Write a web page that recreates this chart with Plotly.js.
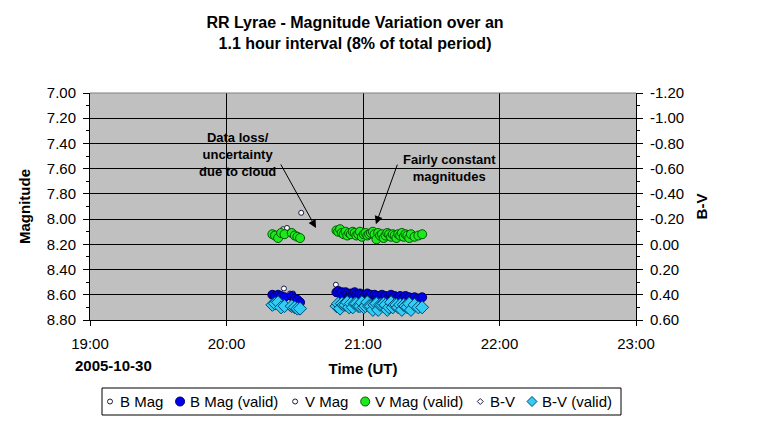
<!DOCTYPE html>
<html>
<head>
<meta charset="utf-8">
<script src="https://cdn.plot.ly/plotly-3.0.1.min.js"></script>
<style>
html,body{margin:0;padding:0;background:#fff;}
#chart{width:757px;height:421px;}
</style>
</head>
<body>
<div id="chart"></div>
<script>
var obsDate = "2005-10-30";

// Group 1 (before cloud) valid observation times (UT)
var times1 = ["20:20:10","20:21:20","20:22:40","20:24:00","20:25:30","20:28:40","20:30:00","20:31:10","20:32:20"];
var vMag1  = [8.12, 8.13, 8.15, 8.11, 8.12, 8.11, 8.13, 8.14, 8.15];
var bMag1  = [8.60, 8.61, 8.60, 8.61, 8.62, 8.61, 8.63, 8.64, 8.66];
var bv1    = [0.48, 0.47, 0.46, 0.50, 0.49, 0.49, 0.50, 0.51, 0.51];

// Group 2 (after cloud) valid observation times (UT)
var times2 = ["20:48:20","20:49:05","20:49:55","20:50:40","20:51:30","20:52:20","20:53:05","20:53:55","20:54:40","20:55:30",
              "20:56:20","20:57:05","20:57:55","20:58:40","20:59:30","21:00:20","21:01:05","21:01:55","21:02:40","21:03:30",
              "21:04:20","21:05:05","21:05:55","21:06:40","21:07:30","21:08:20","21:09:05","21:09:55","21:10:40","21:11:30",
              "21:12:20","21:13:05","21:13:55","21:14:40","21:15:30","21:16:20","21:17:05","21:17:55","21:18:40","21:19:30",
              "21:20:20","21:21:05","21:22:40","21:24:20","21:26:00"];
var vMag2 = [8.09,8.10,8.08,8.11,8.12,8.10,8.13,8.11,8.12,8.10,
             8.11,8.13,8.12,8.10,8.14,8.12,8.11,8.13,8.12,8.11,
             8.10,8.12,8.16,8.11,8.13,8.12,8.15,8.13,8.11,8.12,
             8.14,8.12,8.13,8.15,8.12,8.13,8.11,8.14,8.12,8.13,
             8.15,8.12,8.14,8.13,8.12];
var bMag2 = [8.58,8.57,8.59,8.58,8.60,8.58,8.59,8.61,8.59,8.60,
             8.58,8.60,8.61,8.59,8.60,8.62,8.60,8.59,8.61,8.60,
             8.62,8.60,8.61,8.63,8.61,8.60,8.62,8.61,8.63,8.62,
             8.60,8.62,8.61,8.63,8.62,8.61,8.63,8.62,8.61,8.63,
             8.62,8.64,8.62,8.63,8.62];
var bv2   = [0.49,0.47,0.51,0.47,0.48,0.48,0.46,0.50,0.47,0.50,
             0.47,0.47,0.49,0.49,0.46,0.50,0.49,0.46,0.49,0.49,
             0.52,0.48,0.47,0.52,0.48,0.48,0.47,0.48,0.52,0.50,
             0.46,0.50,0.48,0.48,0.50,0.48,0.52,0.48,0.49,0.50,
             0.47,0.52,0.48,0.50,0.50];

// Invalid (flagged) observations
var bInvTimes  = ["20:25:15","20:27:55","20:29:15","20:48:05"];
var bInvMag    = [8.55, 8.59, 8.59, 8.52];
var vInvTimes  = ["20:24:50","20:26:35","20:32:50"];
var vInvMag    = [8.08, 8.07, 7.95];
var bvInvTimes = ["20:25:15","20:27:55"];
var bvInv      = [0.47, 0.50];

var seriesNames = ["B Mag","B Mag (valid)","V Mag","V Mag (valid)","B-V","B-V (valid)"];
var xTickVals = ["19:00","20:00","21:00","22:00","23:00"];
var xTickText = ["19:00","20:00","21:00","22:00","23:00"];
var yTickVals = [7.0,7.2,7.4,7.6,7.8,8.0,8.2,8.4,8.6,8.8];
var yTickText = ["7.00","7.20","7.40","7.60","7.80","8.00","8.20","8.40","8.60","8.80"];
var y2TickVals = [-1.2,-1.0,-0.8,-0.6,-0.4,-0.2,0.0,0.2,0.4,0.6];
var y2TickText = ["-1.20","-1.00","-0.80","-0.60","-0.40","-0.20","0.00","0.20","0.40","0.60"];

function stamp(arr){ return arr.map(function(t){ return obsDate + " " + t; }); }

var allTimes = stamp(times1.concat(times2));
var FONT = "Liberation Sans, Arial, sans-serif";

// ---- styles ----
var DARK = "#1a1a40";
var styles = [
  {sym:"circle",  size:5,  fill:"#ffffff", line:DARK},
  {sym:"circle",  size:9,  fill:"#0000f0", line:"#000060"},
  {sym:"circle",  size:5,  fill:"#ffffff", line:DARK},
  {sym:"circle",  size:9,  fill:"#1ee81e", line:"#005a00"},
  {sym:"diamond", size:6,  fill:"#ffffff", line:DARK},
  {sym:"diamond", size:10, fill:"#33ccf5", line:"#004a70"}
];

function mk(i){ var s = styles[i]; return {symbol:s.sym, size:s.size, color:s.fill, line:{color:s.line, width:1}}; }

var traces = [
  {name:seriesNames[0], x: stamp(bInvTimes).concat(allTimes), y: bInvMag.concat(bMag1, bMag2), mode:"markers", type:"scatter", marker: mk(0)},
  {name:seriesNames[1], x: allTimes, y: bMag1.concat(bMag2), mode:"markers", type:"scatter", marker: mk(1)},
  {name:seriesNames[2], x: stamp(vInvTimes).concat(allTimes), y: vInvMag.concat(vMag1, vMag2), mode:"markers", type:"scatter", marker: mk(2)},
  {name:seriesNames[3], x: allTimes, y: vMag1.concat(vMag2), mode:"markers", type:"scatter", marker: mk(3)},
  {name:seriesNames[4], x: stamp(bvInvTimes).concat(allTimes), y: bvInv.concat(bv1, bv2), yaxis:"y2", mode:"markers", type:"scatter", marker: mk(4)},
  {name:seriesNames[5], x: allTimes, y: bv1.concat(bv2), yaxis:"y2", mode:"markers", type:"scatter", marker: mk(5)}
];

// ---- plot-area geometry (pixels) used to place the legend box below the plot ----
var M = {l:90, r:121, t:93, b:101};
var PW = 757 - M.l - M.r, PH = 421 - M.t - M.b;
function px(x){ return (x - M.l) / PW; }
function py(y){ return (421 - M.b - y) / PH; }

var LEG_SIZE = 15;
var cv = document.createElement("canvas").getContext("2d");
cv.font = LEG_SIZE + "px 'Liberation Sans', Arial, sans-serif";
var tw = seriesNames.map(function(s){ return cv.measureText(s).width; });
var sumTw = tw.reduce(function(a,b){return a+b;},0);

var boxL = 102, boxR = 621, boxT = 388, boxB = 415, legY = 401.5;
var firstSym = 110, lastEnd = 611, symGap = 9;
var textGap = (lastEnd - firstSym - sumTw - 6*symGap) / 5;

var legShapes = [{type:"rect", xref:"paper", yref:"paper", x0:px(boxL), x1:px(boxR), y0:py(boxB), y1:py(boxT),
                  line:{color:"#000", width:1}, fillcolor:"#fff", layer:"above"}];
var legAnn = [];
var cx = firstSym;
seriesNames.forEach(function(n, i){
  var s = styles[i], r = s.size/2;
  var base = {xref:"paper", yref:"paper", xsizemode:"pixel", ysizemode:"pixel",
              xanchor:px(cx), yanchor:py(legY), fillcolor:s.fill, line:{color:s.line, width:1}, layer:"above"};
  if (s.sym === "circle") {
    legShapes.push(Object.assign({type:"circle", x0:-r, x1:r, y0:-r, y1:r}, base));
  } else {
    legShapes.push(Object.assign({type:"path", path:"M"+(-r)+",0L0,"+r+"L"+r+",0L0,"+(-r)+"Z"}, base));
  }
  legAnn.push({text:n, xref:"paper", yref:"paper", x:px(cx + symGap), y:py(legY), xanchor:"left", yanchor:"middle",
               showarrow:false, font:{family:FONT, size:LEG_SIZE, color:"#000"}, borderpad:0});
  cx = cx + symGap + tw[i] + textGap;
});

var layout = {
  width:757, height:421,
  margin:{l:M.l, r:M.r, t:M.t, b:M.b, pad:0},
  paper_bgcolor:"#ffffff",
  plot_bgcolor:"#c0c0c0",
  font:{family:FONT, size:15, color:"#000000"},
  showlegend:false,
  title:{text:"<b>RR Lyrae - Magnitude Variation over an<br>1.1 hour interval (8% of total period)</b>",
         font:{family:FONT, size:16, color:"#000"}, x:355/757, xanchor:"center", y:1-28/421, yanchor:"top", yref:"container"},
  xaxis:{type:"date", range:[obsDate+" 19:00", obsDate+" 23:00"], automargin:false,
         tickvals: stamp(xTickVals), ticktext: xTickText,
         showgrid:true, gridcolor:"#000", gridwidth:1, zeroline:false,
         showline:true, linecolor:"#000", linewidth:1, ticks:"outside", ticklen:5, tickcolor:"#000",
         ticklabelstandoff:5,
         tickfont:{family:FONT, size:15},
         title:{text:"<b>Time (UT)</b>", font:{family:FONT, size:15}, standoff:12}},
  yaxis:{range:[8.8, 7.0], tickvals:yTickVals, ticktext:yTickText, automargin:false,
         showgrid:true, gridcolor:"#000", gridwidth:1, zeroline:false,
         showline:true, linecolor:"#000", linewidth:1, ticks:"outside", ticklen:6, tickcolor:"#000",
         minor:{dtick:0.1, ticks:"outside", ticklen:3, tickcolor:"#000", showgrid:false},
         ticklabelstandoff:4,
         tickfont:{family:FONT, size:15},
         title:{text:"<b>Magnitude</b>", font:{family:FONT, size:15}, standoff:12}},
  yaxis2:{overlaying:"y", side:"right", range:[0.6, -1.2], tickvals:y2TickVals, ticktext:y2TickText, automargin:false,
         showgrid:false, zeroline:false,
         showline:true, linecolor:"#000", linewidth:1, ticks:"outside", ticklen:6, tickcolor:"#000",
         minor:{dtick:0.1, ticks:"outside", ticklen:3, tickcolor:"#000", showgrid:false},
         ticklabelstandoff:4,
         tickfont:{family:FONT, size:15},
         title:{text:"<b>B-V</b>", font:{family:FONT, size:15}, standoff:13}},
  shapes:[
    {type:"line", xref:"paper", yref:"paper", x0:0, x1:1, y0:1, y1:1, line:{color:"#808080", width:1}, layer:"above"}
  ].concat(legShapes),
  annotations:[
    {text:"<b>2005-10-30</b>", xref:"paper", yref:"paper", x:px(113), y:py(365),
     showarrow:false, font:{family:FONT, size:15}, xanchor:"center", yanchor:"middle"},
    {text:"<b>Data loss/<br>uncertainty<br>due to cloud</b>", x:obsDate+" 20:04:40", y:7.49,
     showarrow:false, font:{family:FONT, size:13}, align:"center"},
    {text:"", x:obsDate+" 20:39:20", y:8.07, showarrow:true, ax:-36, ay:-65,
     arrowhead:2, arrowsize:1.6, arrowwidth:1, arrowcolor:"#000"},
    {text:"<b>Fairly constant<br>magnitudes</b>", x:obsDate+" 21:38:10", y:7.595,
     showarrow:false, font:{family:FONT, size:13}, align:"center"},
    {text:"", x:obsDate+" 21:05:40", y:8.04, showarrow:true, ax:22, ay:-61,
     arrowhead:2, arrowsize:1.6, arrowwidth:1, arrowcolor:"#000"}
  ].concat(legAnn)
};

Plotly.newPlot("chart", traces, layout, {staticPlot:true, displayModeBar:false});
</script>
</body>
</html>
